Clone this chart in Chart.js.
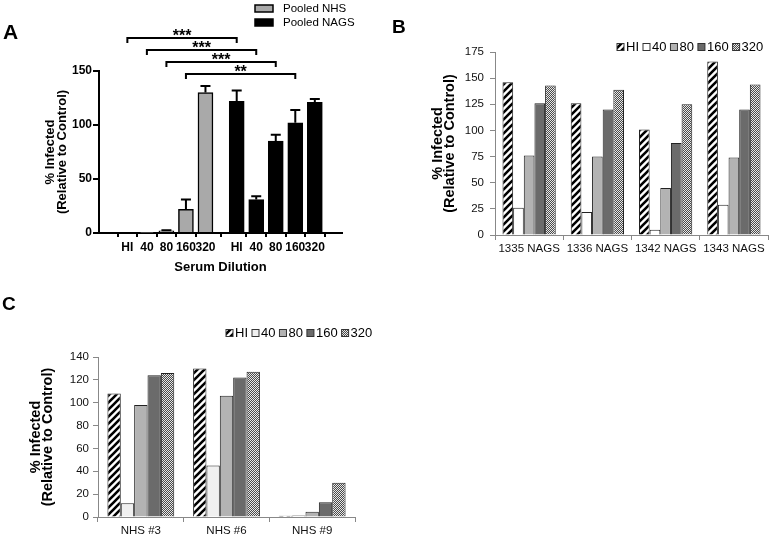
<!DOCTYPE html>
<html>
<head>
<meta charset="utf-8">
<script src="https://cdn.jsdelivr.net/npm/chart.js@4.4.0/dist/chart.umd.min.js"></script>
<style>
  html, body { margin: 0; padding: 0; background: #fff; }
  #quadro { position: relative; width: 775px; height: 538px; overflow: hidden; }
  #quadro canvas { position: absolute; left: 0; top: 0; }
  .letra { position: absolute; font-family: 'Liberation Sans', Arial, sans-serif; font-weight: bold; line-height: 1; }
</style>
</head>
<body>
<div id="quadro">
  <canvas id="graficoA" width="775" height="538"></canvas>
  <canvas id="graficoB" width="775" height="538"></canvas>
  <canvas id="graficoC" width="775" height="538"></canvas>
  <div class="letra" style="left:3px;top:21px;font-size:21px">A</div>
  <div class="letra" style="left:392px;top:17px;font-size:19px">B</div>
  <div class="letra" style="left:2px;top:294px;font-size:19px">C</div>
</div>
<script>
// painel A - soros agrupados
const diluicoes = ['HI', '40', '80', '160', '320']
const nhsValores = [0, 0.5, 2, 22, 130]
const nhsErros = [0, 0, 0.6, 9, 6]
const nagsValores = [122, 31, 85, 102, 121]
const nagsErros = [10, 3, 6, 12, 3]
const significancia = ['***', '***', '***', '**']

// painel B - soros NAGS individuais
const amostrasB = ['1335 NAGS', '1336 NAGS', '1342 NAGS', '1343 NAGS']
const bHI = [146, 126, 101, 166]
const b40 = [26, 22, 5, 29]
const b80 = [76, 75, 45, 74]
const b160 = [126, 120, 88, 120]
const b320 = [143, 139, 125, 144]

// painel C - soros NHS individuais
const amostrasC = ['NHS #3', 'NHS #6', 'NHS #9']
const cHI = [108, 130, 1.2]
const c40 = [12, 45, 1.4]
const c80 = [98, 106, 4.6]
const c160 = [124, 122, 13]
const c320 = [126, 127, 30]

Chart.defaults.font.family = "'Liberation Sans', Arial, sans-serif"
Chart.defaults.color = '#000'

function padraoListras() {
    let c = document.createElement('canvas')
    c.width = 7
    c.height = 7
    let g = c.getContext('2d')
    g.fillStyle = '#fff'
    g.fillRect(0, 0, 7, 7)
    g.strokeStyle = '#000'
    g.lineWidth = 2.6
    g.beginPath()
    for (let k = 0; k <= 14; k += 7) {
        g.moveTo(k - 9, 9)
        g.lineTo(k + 2, -2)
    }
    g.stroke()
    return g.createPattern(c, 'repeat')
}

function padraoXadrez() {
    let c = document.createElement('canvas')
    c.width = 2
    c.height = 2
    let g = c.getContext('2d')
    g.fillStyle = '#e8e8e8'
    g.fillRect(0, 0, 2, 2)
    g.fillStyle = '#4a4a4a'
    g.fillRect(1, 0, 1, 1)
    g.fillRect(0, 1, 1, 1)
    return g.createPattern(c, 'repeat')
}

const listras = padraoListras()
const xadrez = padraoXadrez()

// legenda desenhada a mao
const legendaManual = {
    id: 'legendaManual',
    afterDraw(chart, args, op) {
        let ctx = chart.ctx
        ctx.save()
        ctx.font = op.fonte
        ctx.textBaseline = 'middle'
        let cx = op.x
        let cy = op.y
        chart.data.datasets.forEach(ds => {
            ctx.fillStyle = ds.backgroundColor
            ctx.fillRect(cx, cy - op.h / 2, op.w, op.h)
            ctx.strokeStyle = op.borda
            ctx.lineWidth = op.bordaLargura
            ctx.strokeRect(cx, cy - op.h / 2, op.w, op.h)
            ctx.fillStyle = '#000'
            ctx.fillText(ds.label, cx + op.w + op.espaco, cy + 0.5)
            if (op.vertical) {
                cy += op.passo
            } else {
                cx += op.w + op.espaco + ctx.measureText(ds.label).width + op.passo
            }
        })
        ctx.restore()
    }
}

// barras de erro e colchetes de significancia do painel A
const extrasA = {
    id: 'extrasA',
    afterDatasetsDraw(chart) {
        let ctx = chart.ctx
        let x = chart.scales.x
        let y = chart.scales.y
        ctx.save()
        ctx.strokeStyle = '#000'
        ctx.lineWidth = 2
        chart.data.datasets.forEach(ds => {
            ds.data.forEach((p, i) => {
                let e = ds.erros[i]
                if (!e) return
                let px = x.getPixelForValue(p.x)
                let topo = y.getPixelForValue(p.y)
                let fim = y.getPixelForValue(p.y + e)
                ctx.beginPath()
                ctx.moveTo(px, topo)
                ctx.lineTo(px, fim)
                ctx.moveTo(px - 5, fim)
                ctx.lineTo(px + 5, fim)
                ctx.stroke()
            })
        })
        let nhs = chart.data.datasets[0].data
        let nags = chart.data.datasets[1].data
        ctx.font = 'bold 16px "Liberation Sans", Arial, sans-serif'
        ctx.textAlign = 'center'
        ctx.textBaseline = 'alphabetic'
        ctx.fillStyle = '#000'
        significancia.forEach((s, i) => {
            let x1 = x.getPixelForValue(nhs[i].x)
            let x2 = x.getPixelForValue(nags[i].x)
            let yb = chart.chartArea.top - 33 + i * 12
            ctx.beginPath()
            ctx.moveTo(x1, yb + 5)
            ctx.lineTo(x1, yb)
            ctx.lineTo(x2, yb)
            ctx.lineTo(x2, yb + 5)
            ctx.stroke()
            ctx.fillText(s, (x1 + x2) / 2, yb + 3)
        })
        ctx.restore()
    }
}

const posNhs = diluicoes.map((d, i) => i)
const posNags = diluicoes.map((d, i) => i + 5.6)
const posTodas = posNhs.concat(posNags)
const rotulosA = diluicoes.concat(diluicoes)

new Chart(document.getElementById('graficoA'), {
    type: 'bar',
    data: {
        datasets: [{
            label: 'Pooled NHS',
            data: nhsValores.map((v, i) => ({ x: posNhs[i], y: v })),
            erros: nhsErros,
            backgroundColor: '#a9a9a9',
            borderColor: '#000',
            borderWidth: 1.5
        }, {
            label: 'Pooled NAGS',
            data: nagsValores.map((v, i) => ({ x: posNags[i], y: v })),
            erros: nagsErros,
            backgroundColor: '#000',
            borderColor: '#000',
            borderWidth: 1.5
        }]
    },
    options: {
        responsive: false,
        animation: false,
        grouped: false,
        barThickness: 15,
        layout: { padding: { left: 29, top: 71, right: 433, bottom: 260 } },
        plugins: {
            legend: { display: false },
            tooltip: { enabled: false },
            legendaManual: { x: 255, y: 8.5, w: 18, h: 7, espaco: 10, passo: 14, vertical: true, fonte: '11.5px "Liberation Sans", Arial, sans-serif', borda: '#000', bordaLargura: 1.5 }
        },
        scales: {
            x: {
                type: 'linear',
                min: -0.83,
                max: 10.37,
                afterBuildTicks: s => { s.ticks = posTodas.map(v => ({ value: v })) },
                afterFit: s => { s.height = 45 },
                ticks: {
                    autoSkip: false,
                    maxRotation: 0,
                    padding: 3,
                    font: { size: 12, weight: 'bold' },
                    callback: (v, i) => rotulosA[i]
                },
                grid: { drawOnChartArea: false, tickLength: 4, color: '#000', lineWidth: 2 },
                border: { color: '#000', width: 2 },
                title: { display: true, text: 'Serum Dilution', font: { size: 13, weight: 'bold' }, padding: { top: 0, bottom: 2.5 } }
            },
            y: {
                min: 0,
                max: 150,
                afterFit: s => { s.width = 70 },
                ticks: { stepSize: 50, padding: 1, font: { size: 12, weight: 'bold' } },
                grid: { drawOnChartArea: false, tickLength: 6, color: '#000', lineWidth: 2 },
                border: { color: '#000', width: 2 },
                title: { display: true, text: ['% Infected', '(Relative to Control)'], font: { size: 13, weight: 'bold', lineHeight: '12px' }, padding: { top: 15, bottom: 0 } }
            }
        }
    },
    plugins: [extrasA, legendaManual]
})

function conjuntos(hi, d40, d80, d160, d320, cor40) {
    return [
        { label: 'HI', data: hi, backgroundColor: listras },
        { label: '40', data: d40, backgroundColor: cor40 },
        { label: '80', data: d80, backgroundColor: '#b3b3b3' },
        { label: '160', data: d160, backgroundColor: '#6b6b6b' },
        { label: '320', data: d320, backgroundColor: xadrez }
    ]
}

function opcoesIndividuais(area, maximo, passo, alturaX, padTitulo, fonteTitulo, padRotuloY, legenda) {
    return {
        responsive: false,
        animation: false,
        layout: { padding: { left: area.left - 70, top: area.top, right: 775 - area.right, bottom: 538 - area.bottom - alturaX } },
        datasets: { bar: { categoryPercentage: 0.78, barPercentage: 1, borderWidth: 1, borderColor: '#222' } },
        plugins: {
            legend: { display: false },
            tooltip: { enabled: false },
            legendaManual: legenda
        },
        scales: {
            x: {
                afterFit: s => { s.height = alturaX },
                ticks: { padding: 2, color: '#111', font: { size: 11.5 } },
                grid: { drawOnChartArea: false, offset: true, tickLength: 5, color: '#888' },
                border: { color: '#888' }
            },
            y: {
                min: 0,
                max: maximo,
                afterFit: s => { s.width = 70 },
                ticks: { stepSize: passo, padding: padRotuloY, color: '#111', font: { size: 11.5 } },
                grid: { drawOnChartArea: false, tickLength: 5, color: '#888' },
                border: { color: '#888' },
                title: { display: true, text: ['% Infected', '(Relative to Control)'], font: { size: fonteTitulo, weight: 'bold', lineHeight: '12px' }, padding: { top: padTitulo, bottom: 0 } }
            }
        }
    }
}

new Chart(document.getElementById('graficoB'), {
    type: 'bar',
    data: { labels: amostrasB, datasets: conjuntos(bHI, b40, b80, b160, b320, '#ffffff') },
    options: opcoesIndividuais({ left: 495, top: 52, right: 768, bottom: 235 }, 175, 25, 30, 7, 14.5, 6,
        { x: 617, y: 47, w: 7, h: 7, espaco: 2, passo: 4, vertical: false, fonte: '13px "Liberation Sans", Arial, sans-serif', borda: '#333', bordaLargura: 1 }),
    plugins: [legendaManual]
})

new Chart(document.getElementById('graficoC'), {
    type: 'bar',
    data: { labels: amostrasC, datasets: conjuntos(cHI, c40, c80, c160, c320, '#f0f0f0') },
    options: opcoesIndividuais({ left: 98, top: 357, right: 355, bottom: 517 }, 140, 20, 18, 2, 14.5, 4,
        { x: 226, y: 333, w: 7, h: 7, espaco: 2, passo: 4, vertical: false, fonte: '13px "Liberation Sans", Arial, sans-serif', borda: '#333', bordaLargura: 1 }),
    plugins: [legendaManual]
})
</script>
</body>
</html>
